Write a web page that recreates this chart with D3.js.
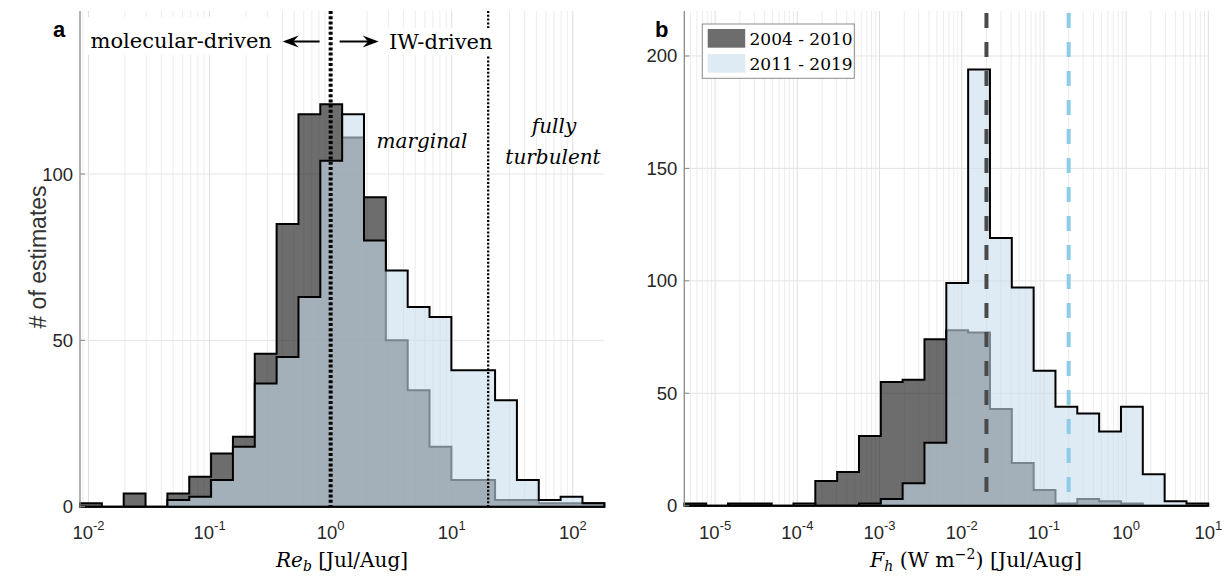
<!DOCTYPE html>
<html>
<head>
<meta charset="utf-8">
<script src="https://cdn.jsdelivr.net/npm/d3@7"></script>
<style>
  body { margin: 0; background: #fff; }
  svg { display: block; font-family: 'Liberation Sans', Arial, sans-serif; }
  .serif { font-family: 'DejaVu Serif', serif; }
</style>
</head>
<body>
<script>
// ==================== Data ============================
// Histogram bins are log-spaced (24 per panel), given as log10 of first / last edge
const reBinLog = [-2.07, 2.26],
      fhBinLog = [-5.375, 1];

// Counts per bin, Re_b (panel a)
const reCounts0410 = [1, 0, 4, 0, 4, 9, 16, 21, 46, 85, 118, 121, 111, 93, 50, 35, 18, 8, 8, 2, 2, 1, 1, 1];
const reCounts1119 = [0, 0, 0, 0, 2, 3, 8, 18, 37, 45, 63, 104, 118, 80, 71, 60, 57, 41, 41, 32, 8, 2, 3, 1];

// Counts per bin, F_h (panel b)
const fhCounts0410 = [1, 0, 1, 1, 0, 0, 11, 15, 31, 55, 56, 74, 78, 77, 43, 19, 7, 1, 3, 2, 1, 0, 0, 0];
const fhCounts1119 = [0, 0, 0, 0, 0, 1, 0, 0, 1, 3, 10, 28, 99, 194, 119, 97, 60, 44, 41, 33, 44, 14, 2, 1];

// Axis ticks
const reYTicks = [0, 50, 100],
      fhYTicks = [0, 50, 100, 150, 200],
      reXExp = [-2, -1, 0, 1, 2],
      fhXExp = [-5, -4, -3, -2, -1, 0, 1];

// Reference lines
const reRegimes = [1, 20];          // molecular / IW boundary, fully turbulent
const fhMedians = [0.02, 0.2];      // 2004-2010, 2011-2019

const legendLabels = ['2004 - 2010', '2011 - 2019'];

// ==================== Set up ============================
const W = 1228, H = 583;
const grayFill = '#1f1f1f', grayAlpha = 0.65,
      blueFill = '#c8deed', blueAlpha = 0.6;

const svg = d3.select('body')
  .append('svg')
    .attr('width', W)
    .attr('height', H);

const binEdges = (lims, n) => d3.range(n + 1).map(i => Math.pow(10, lims[0] + i * (lims[1] - lims[0]) / n));

// Draw one histogram panel, returns its scales
const drawPanel = (cfg) => {
  const x = d3.scaleLog().domain([Math.pow(10, cfg.binLog[0]), Math.pow(10, cfg.binLog[1])]).range(cfg.xr),
        y = d3.scaleLinear().domain([0, cfg.ymax]).range(cfg.yr);
  const g = svg.append('g');

  // minor + major vertical gridlines
  g.selectAll('.vgrid')
    .data(x.ticks())
    .enter().append('line')
      .attr('x1', d => x(d)).attr('x2', d => x(d))
      .attr('y1', cfg.yr[1]).attr('y2', cfg.yr[0])
      .attr('stroke', d => Math.abs(Math.log10(d) - Math.round(Math.log10(d))) < 1e-6 ? '#dedede' : '#ececec')
      .attr('stroke-width', 1);

  // horizontal gridlines
  g.selectAll('.hgrid')
    .data(cfg.yTicks)
    .enter().append('line')
      .attr('x1', cfg.xr[0]).attr('x2', cfg.xr[1])
      .attr('y1', d => y(d)).attr('y2', d => y(d))
      .attr('stroke', '#e4e4e4')
      .attr('stroke-width', 1);

  // histograms as step outlines
  const edges = binEdges(cfg.binLog, cfg.counts[0].length);
  const area = d3.area()
    .curve(d3.curveStepAfter)
    .x(d => x(d[0]))
    .y0(y(0))
    .y1(d => y(d[1]));
  const stepData = (counts) => counts.map((c, i) => [edges[i], c]).concat([[edges[edges.length - 1], counts[counts.length - 1]]]);

  g.append('path')
    .attr('d', area(stepData(cfg.counts[0])))
    .attr('fill', grayFill).attr('fill-opacity', grayAlpha)
    .attr('stroke', '#000').attr('stroke-width', 2)
    .attr('stroke-linejoin', 'miter');

  g.append('path')
    .attr('d', area(stepData(cfg.counts[1])))
    .attr('fill', blueFill).attr('fill-opacity', blueAlpha)
    .attr('stroke', '#000').attr('stroke-width', 2)
    .attr('stroke-linejoin', 'miter');

  // left axis line + inward ticks
  g.append('line')
    .attr('x1', cfg.xr[0]).attr('x2', cfg.xr[0])
    .attr('y1', cfg.yr[1]).attr('y2', cfg.yr[0] + 1)
    .attr('stroke', '#8a8a8a').attr('stroke-width', 1.3);
  g.selectAll('.ytick')
    .data(cfg.yTicks)
    .enter().append('line')
      .attr('x1', cfg.xr[0]).attr('x2', cfg.xr[0] + 5)
      .attr('y1', d => y(d)).attr('y2', d => y(d))
      .attr('stroke', '#8a8a8a');

  // y tick labels
  g.selectAll('.ylab')
    .data(cfg.yTicks)
    .enter().append('text')
      .attr('x', cfg.xr[0] - 7)
      .attr('y', d => y(d) + 6.5)
      .attr('text-anchor', 'end')
      .attr('font-size', 18.5)
      .attr('fill', '#262626')
      .text(d => d);

  // x tick labels 10^n
  const xl = g.selectAll('.xlab')
    .data(cfg.xExp)
    .enter().append('text')
      .attr('x', d => x(Math.pow(10, d)))
      .attr('y', 539)
      .attr('text-anchor', 'middle')
      .attr('font-size', 18.5)
      .attr('fill', '#262626');
  xl.append('tspan').text('10');
  xl.append('tspan').attr('dy', -9).attr('font-size', 13).text(d => d);

  // panel letter
  svg.append('text')
    .attr('x', cfg.letterX).attr('y', 36.5)
    .attr('font-size', 22).attr('font-weight', 'bold')
    .text(cfg.letter);

  return {x, y, g};
};

// ==================== Panel a ============================
const pa = drawPanel({
  binLog: reBinLog, counts: [reCounts0410, reCounts1119],
  xr: [80, 604.3], yr: [506.7, 11], ymax: 149,
  yTicks: reYTicks, xExp: reXExp, letter: 'a', letterX: 53
});

// regime boundaries
pa.g.append('line')
  .attr('x1', pa.x(reRegimes[0])).attr('x2', pa.x(reRegimes[0]))
  .attr('y1', 11).attr('y2', 506.7)
  .attr('stroke', '#000').attr('stroke-width', 4)
  .attr('stroke-dasharray', '3,2.2');
pa.g.append('line')
  .attr('x1', pa.x(reRegimes[1])).attr('x2', pa.x(reRegimes[1]))
  .attr('y1', 11).attr('y2', 506.7)
  .attr('stroke', '#000').attr('stroke-width', 2.3)
  .attr('stroke-dasharray', '2,1.8');

// white boxes behind the regime labels
pa.g.append('rect').attr('x', 86).attr('y', 17).attr('width', 192).attr('height', 38).attr('fill', '#fff');
pa.g.append('rect').attr('x', 385).attr('y', 28).attr('width', 121).attr('height', 27).attr('fill', '#fff');

const x1 = pa.x(reRegimes[0]);
pa.g.append('text')
  .attr('class', 'serif')
  .attr('x', 90.5).attr('y', 47.5)
  .attr('font-size', 21)
  .text('molecular-driven');
pa.g.append('text')
  .attr('class', 'serif')
  .attr('x', 389).attr('y', 48.5)
  .attr('font-size', 21)
  .text('IW-driven');

// arrows either side of Re_b = 1
const arrow = (from, to, yy) => {
  const dir = Math.sign(to - from);
  pa.g.append('line')
    .attr('x1', from).attr('x2', to - dir * 8)
    .attr('y1', yy).attr('y2', yy)
    .attr('stroke', '#000').attr('stroke-width', 2);
  pa.g.append('path')
    .attr('d', `M${to},${yy} L${to - dir * 16},${yy - 6} L${to - dir * 10.5},${yy} L${to - dir * 16},${yy + 6} Z`)
    .attr('fill', '#000');
};
arrow(x1 - 11, x1 - 48, 41.5);
arrow(x1 + 9, x1 + 48, 41.5);

pa.g.append('text')
  .attr('class', 'serif')
  .attr('x', 422).attr('y', 148)
  .attr('text-anchor', 'middle')
  .attr('font-size', 20).attr('font-style', 'italic')
  .text('marginal');
pa.g.append('text')
  .attr('class', 'serif')
  .attr('x', 554).attr('y', 133)
  .attr('text-anchor', 'middle')
  .attr('font-size', 20).attr('font-style', 'italic')
  .text('fully');
pa.g.append('text')
  .attr('class', 'serif')
  .attr('x', 553).attr('y', 164)
  .attr('text-anchor', 'middle')
  .attr('font-size', 20).attr('font-style', 'italic')
  .text('turbulent');

// y axis title
svg.append('text')
  .attr('transform', 'translate(46, 257) rotate(-90)')
  .attr('text-anchor', 'middle')
  .attr('font-size', 23)
  .attr('fill', '#333')
  .text('# of estimates');

// x axis title a
const ta = svg.append('text')
  .attr('class', 'serif')
  .attr('x', 342).attr('y', 567)
  .attr('text-anchor', 'middle')
  .attr('font-size', 20);
ta.append('tspan').attr('font-style', 'italic').text('Re');
ta.append('tspan').attr('font-style', 'italic').attr('font-size', 14).attr('dy', 4).text('b');
ta.append('tspan').attr('dy', -4).text(' [Jul/Aug]');

// ==================== Panel b ============================
const pb = drawPanel({
  binLog: fhBinLog, counts: [fhCounts0410, fhCounts1119],
  xr: [684.3, 1208.3], yr: [505.7, 11], ymax: 220,
  yTicks: fhYTicks, xExp: fhXExp, letter: 'b', letterX: 655
});

// median lines
pb.g.selectAll('.median')
  .data(fhMedians)
  .enter().append('line')
    .attr('x1', d => pb.x(d)).attr('x2', d => pb.x(d))
    .attr('y1', 13).attr('y2', 505.7)
    .attr('stroke', (d, i) => i === 0 ? '#4a4a4a' : '#8ecbe8')
    .attr('stroke-width', 4)
    .attr('stroke-dasharray', '15,14');

// legend
const lg = pb.g.append('g');
lg.append('rect')
  .attr('x', 702.3).attr('y', 24).attr('width', 152).attr('height', 54.3)
  .attr('fill', '#fff').attr('stroke', '#8c8c8c').attr('stroke-width', 1);
legendLabels.forEach((lab, i) => {
  lg.append('rect')
    .attr('x', 707.7).attr('y', 29 + i * 25).attr('width', 37.5).attr('height', 18.7)
    .attr('fill', i === 0 ? grayFill : blueFill)
    .attr('fill-opacity', i === 0 ? grayAlpha : blueAlpha);
  lg.append('text')
    .attr('class', 'serif')
    .attr('x', 749.5).attr('y', 45 + i * 24.5)
    .attr('font-size', 17)
    .text(lab);
});

// x axis title b
const tb = svg.append('text')
  .attr('class', 'serif')
  .attr('x', 976).attr('y', 567)
  .attr('text-anchor', 'middle')
  .attr('font-size', 20.5);
tb.append('tspan').attr('font-style', 'italic').text('F');
tb.append('tspan').attr('font-style', 'italic').attr('font-size', 14).attr('dy', 4).text('h');
tb.append('tspan').attr('dy', -4).text(' (W m');
tb.append('tspan').attr('font-size', 14).attr('dy', -8).text('\u22122');
tb.append('tspan').attr('dy', 8).text(')  [Jul/Aug]');
</script>
</body>
</html>
